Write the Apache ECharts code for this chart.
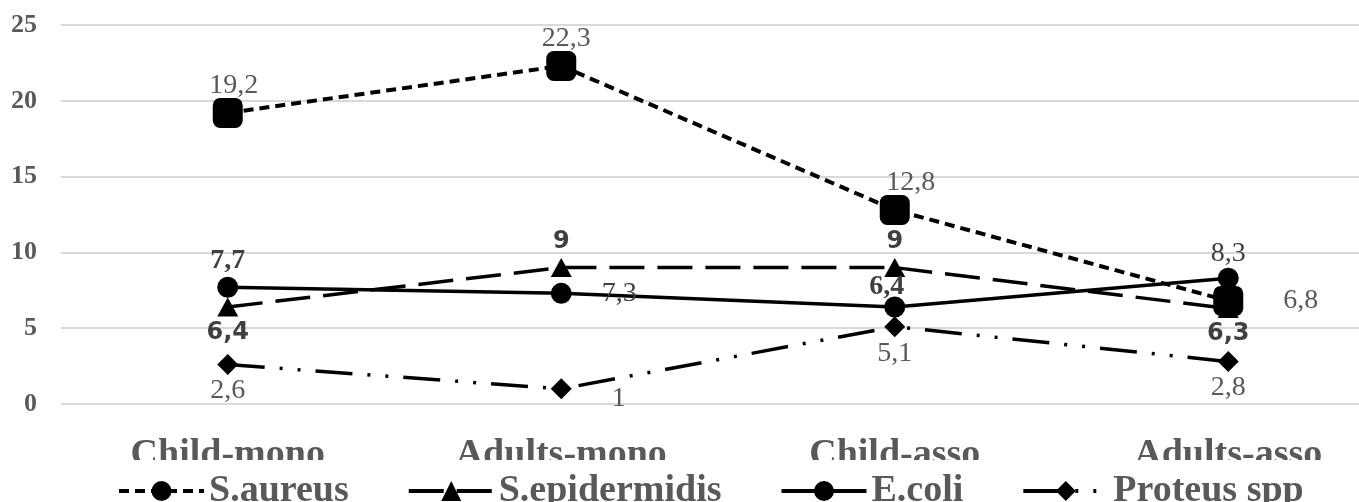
<!DOCTYPE html>
<html>
<head>
<meta charset="utf-8">
<script src="https://cdn.jsdelivr.net/npm/echarts@6/dist/echarts.min.js"></script>
<style>
html,body{margin:0;padding:0;background:#fff;}
#chart{width:1359px;height:502px;}
</style>
</head>
<body>
<div id="chart"></div>
<script>
const categories = ['Child-mono', 'Adults-mono', 'Child-asso', 'Adults-asso'];
const seriesNames = ['S.aureus', 'S.epidermidis', 'E.coli', 'Proteus spp'];
const saureus = [19.2, 22.3, 12.8, 6.8];
const sepidermidis = [6.4, 9, 9, 6.3];
const ecoli = [7.7, 7.3, 6.4, 8.3];
const proteus = [2.6, 1, 5.1, 2.8];
const yMin = 0, yMax = 25, yStep = 5;

const fmt = p => String(p.value).replace('.', ',');
const serifLbl = {fontFamily: 'Liberation Serif', fontSize: 28, color: '#595959', formatter: fmt};

// label placement per point (styling only)
const aureusLbl = [
  {position: 'top', distance: -2, offset: [6, 0]},
  {position: 'top', distance: -2, offset: [5, 0]},
  {position: 'top', distance: -2, offset: [16, 0]},
  {position: 'right', distance: 40, offset: [0, 0]}
];
const epiLbl = ['bottom', 'top', 'top', 'bottom'];
const ecoliLbl = [
  {position: 'top', distance: 2, fontWeight: 'bold'},
  {position: 'right', distance: 30, offset: [0, 0]},
  {position: 'top', distance: -4, offset: [-8, 0], fontWeight: 'bold'},
  {position: 'top', distance: 0}
];
const proteusLbl = [
  {position: 'bottom', distance: 2},
  {position: 'right', distance: 40, offset: [0, 10]},
  {position: 'bottom', distance: 2},
  {position: 'bottom', distance: 2}
];

const chart = echarts.init(document.getElementById('chart'), null, {renderer: 'canvas'});
chart.setOption({
  animation: false,
  backgroundColor: '#fff',
  // white band where the legend overlaps the bottom of the category labels
  graphic: [{type: 'rect', left: 0, top: 460, z: 50, shape: {width: 1359, height: 42}, style: {fill: '#fff'}}],
  grid: [
    {left: 61, right: 0, top: 25, height: 379, containLabel: false},
    {left: 227.75, width: 1000.5, top: 25, height: 379, containLabel: false}
  ],
  xAxis: [
    {gridIndex: 0, type: 'value', show: false, min: 0, max: 1},
    {
      gridIndex: 1,
      type: 'category',
      data: categories,
      boundaryGap: false,
      axisLine: {show: false},
      axisTick: {show: false},
      splitLine: {show: false},
      axisLabel: {fontFamily: 'Liberation Serif', fontWeight: 'bold', fontSize: 38, color: '#595959', margin: 32, interval: 0}
    }
  ],
  yAxis: [
    {
      gridIndex: 0,
      type: 'value',
      min: yMin, max: yMax, interval: yStep,
      axisLine: {show: false},
      axisTick: {show: false},
      splitLine: {lineStyle: {color: '#d9d9d9', width: 2}},
      axisLabel: {fontFamily: 'Liberation Serif', fontWeight: 'bold', fontSize: 26, color: '#595959', margin: 24}
    },
    {
      gridIndex: 1,
      type: 'value',
      min: yMin, max: yMax, interval: yStep,
      show: false,
      splitLine: {show: false}
    }
  ],
  legend: {
    left: 112, top: 460, z: 60,
    padding: [12, 5, 10, 5],
    itemWidth: 85, itemHeight: 25, itemGap: 58,
    lineStyle: {width: 4},
    textStyle: {fontFamily: 'Liberation Serif', fontWeight: 'bold', fontSize: 38, color: '#595959'},
    data: seriesNames
  },
  series: [
    {
      name: seriesNames[0], type: 'line', xAxisIndex: 1, yAxisIndex: 1,
      symbol: 'circle', symbolSize: 30,
      itemStyle: {color: '#000'},
      lineStyle: {color: '#000', width: 4, type: [10, 6]},
      data: saureus.map((v, i) => ({
        value: v, symbol: 'roundRect', symbolSize: 30,
        label: Object.assign({show: true}, serifLbl, aureusLbl[i])
      })),
      z: 2
    },
    {
      name: seriesNames[1], type: 'line', xAxisIndex: 1, yAxisIndex: 1,
      symbol: 'triangle', symbolSize: [21, 19],
      itemStyle: {color: '#000'},
      lineStyle: {color: '#000', width: 3.5, type: [35, 13]},
      label: {show: true, fontFamily: 'DejaVu Sans', fontWeight: 'bold', fontSize: 24, color: '#404040', formatter: fmt},
      data: sepidermidis.map((v, i) => ({value: v, label: {position: epiLbl[i], distance: 4}})),
      z: 3
    },
    {
      name: seriesNames[2], type: 'line', xAxisIndex: 1, yAxisIndex: 1,
      symbol: 'circle', symbolSize: 21,
      itemStyle: {color: '#000'},
      lineStyle: {color: '#000', width: 3.5, type: 'solid'},
      data: ecoli.map((v, i) => ({
        value: v,
        label: Object.assign({show: true}, serifLbl, {color: '#404040'}, ecoliLbl[i])
      })),
      z: 4
    },
    {
      name: seriesNames[3], type: 'line', xAxisIndex: 1, yAxisIndex: 1,
      symbol: 'diamond', symbolSize: 21,
      itemStyle: {color: '#000'},
      lineStyle: {color: '#000', width: 3.5, type: [37, 15, 3, 15, 3, 15]},
      data: proteus.map((v, i) => ({
        value: v,
        label: Object.assign({show: true}, serifLbl, proteusLbl[i])
      })),
      z: 5
    }
  ]
});
</script>
</body>
</html>
